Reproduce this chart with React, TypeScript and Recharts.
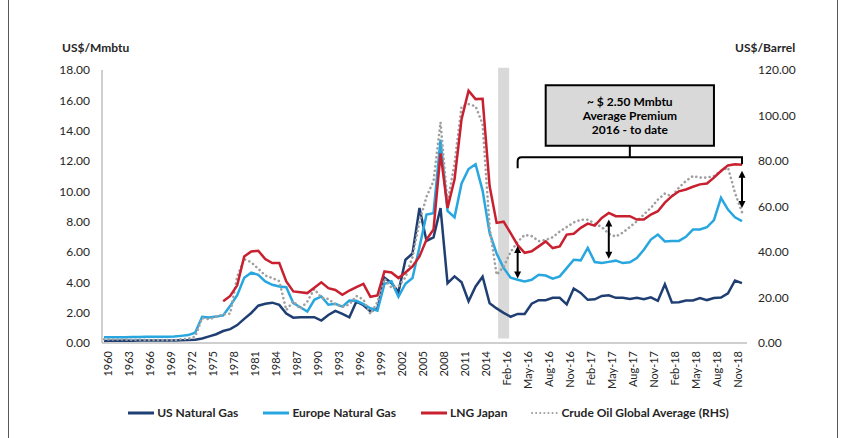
import { LineChart, Line, XAxis, YAxis, ReferenceLine, ReferenceArea } from "recharts";

const years = [
  "1960", "1961", "1962", "1963", "1964", "1965", "1966", "1967", "1968", "1969",
  "1970", "1971", "1972", "1973", "1974", "1975", "1976", "1977", "1978", "1979",
  "1980", "1981", "1982", "1983", "1984", "1985", "1986", "1987", "1988", "1989",
  "1990", "1991", "1992", "1993", "1994", "1995", "1996", "1997", "1998", "1999",
  "2000", "2001", "2002", "2003", "2004", "2005", "2006", "2007", "2008", "2009",
  "2010", "2011", "2012", "2013", "2014", "2015",
];
const months = [
  "Jan-16", "Feb-16", "Mar-16", "Apr-16", "May-16", "Jun-16", "Jul-16", "Aug-16", "Sep-16", "Oct-16", "Nov-16", "Dec-16",
  "Jan-17", "Feb-17", "Mar-17", "Apr-17", "May-17", "Jun-17", "Jul-17", "Aug-17", "Sep-17", "Oct-17", "Nov-17", "Dec-17",
  "Jan-18", "Feb-18", "Mar-18", "Apr-18", "May-18", "Jun-18", "Jul-18", "Aug-18", "Sep-18", "Oct-18", "Nov-18", "Dec-18",
];

// US$/Mmbtu, yearly 1960-2015
const usAnnual = [
  0.14, 0.15, 0.15, 0.16, 0.15, 0.16, 0.16, 0.16, 0.17, 0.17,
  0.17, 0.18, 0.19, 0.22, 0.3, 0.44, 0.58, 0.79, 0.91, 1.18,
  1.59, 1.98, 2.46, 2.59, 2.66, 2.51, 1.94, 1.67, 1.69, 1.69,
  1.7, 1.48, 1.85, 2.12, 1.92, 1.69, 2.73, 2.49, 2.09, 2.27,
  4.31, 3.96, 3.36, 5.49, 5.9, 8.9, 6.73, 6.97, 8.9, 3.94,
  4.39, 4.0, 2.75, 3.73, 4.37, 2.62,
];
const europeAnnual = [
  0.38, 0.38, 0.38, 0.38, 0.39, 0.4, 0.41, 0.42, 0.42, 0.42,
  0.43, 0.47, 0.52, 0.68, 1.72, 1.68, 1.74, 1.82, 2.45, 3.15,
  4.3, 4.64, 4.5, 4.06, 3.84, 3.72, 3.68, 2.63, 2.36, 2.07,
  2.85, 3.07, 2.52, 2.58, 2.4, 2.8, 2.78, 2.56, 2.29, 2.14,
  3.9, 4.06, 3.05, 3.91, 4.28, 6.33, 8.47, 8.56, 13.41, 8.71,
  8.29, 10.52, 11.47, 11.79, 10.05, 7.26,
];
const lngAnnual = [
  null, null, null, null, null, null, null, null, null, null,
  null, null, null, null, null, null, null, 2.75, 3.1, 3.8,
  5.7, 6.04, 6.08, 5.54, 5.27, 5.27, 4.06, 3.4, 3.34, 3.29,
  3.64, 4.0, 3.62, 3.5, 3.18, 3.46, 3.69, 3.9, 3.05, 3.14,
  4.72, 4.65, 4.28, 4.65, 5.05, 5.71, 6.82, 7.48, 12.5, 8.91,
  10.79, 14.76, 16.63, 16.08, 16.1, 10.35,
];
// US$/Barrel
const crudeAnnual = [
  1.63, 1.57, 1.52, 1.5, 1.45, 1.42, 1.36, 1.33, 1.32, 1.29,
  1.21, 1.69, 1.82, 2.81, 10.97, 10.43, 11.63, 12.57, 12.91, 29.19,
  36.87, 35.48, 32.65, 29.66, 28.56, 27.18, 14.43, 18.44, 14.92, 18.23,
  23.73, 20.0, 19.32, 16.97, 15.82, 17.02, 20.67, 19.09, 12.72, 17.97,
  28.23, 24.35, 24.93, 28.9, 37.73, 53.39, 64.29, 71.12, 96.99, 61.76,
  79.04, 104.01, 105.01, 104.07, 96.24, 50.75,
];

// monthly Jan-16 .. Dec-18
const usMonthly = [
  2.28, 1.99, 1.73, 1.92, 1.92, 2.59, 2.82, 2.82, 2.98, 2.98, 2.55, 3.59,
  3.3, 2.85, 2.88, 3.1, 3.15, 2.98, 2.98, 2.9, 2.98, 2.88, 3.01, 2.78,
  3.87, 2.67, 2.69, 2.8, 2.8, 2.97, 2.83, 2.96, 3.0, 3.28, 4.12, 3.95,
];
const europeMonthly = [
  5.9, 4.95, 4.3, 4.17, 4.06, 4.17, 4.5, 4.45, 4.24, 4.39, 4.94, 5.49,
  5.45, 6.27, 5.34, 5.27, 5.35, 5.43, 5.27, 5.32, 5.6, 6.15, 6.82, 7.15,
  6.7, 6.73, 6.73, 7.0, 7.48, 7.48, 7.63, 8.1, 9.57, 8.8, 8.29, 8.03,
];
const lngMonthly = [
  7.92, 8.0, 7.25, 6.45, 5.95, 6.05, 6.37, 6.7, 6.26, 6.37, 7.15, 7.2,
  7.59, 7.87, 7.74, 8.25, 8.58, 8.36, 8.36, 8.36, 8.14, 8.14, 8.47, 8.69,
  9.25, 9.68, 10.0, 10.12, 10.3, 10.46, 10.52, 10.9, 11.34, 11.71, 11.78, 11.76,
];
const crudeMonthly = [
  30.0, 33.5, 40.0, 44.5, 47.5, 47.0, 44.8, 45.3, 46.5, 49.0, 51.0, 53.0,
  54.2, 54.2, 52.5, 51.0, 48.0, 46.8, 48.5, 51.0, 53.5, 56.5, 59.4, 63.0,
  65.7, 64.5, 68.3, 71.2, 73.4, 72.7, 72.7, 73.4, 75.6, 77.1, 66.0, 57.5,
];

const leftTicks = [0, 2, 4, 6, 8, 10, 12, 14, 16, 18];
const rightTicks = [0, 20, 40, 60, 80, 100, 120];
const boxLines = ["~ $ 2.50 Mmbtu", "Average Premium", "2016 - to date"];

const categories = [...years, ...months];
const us = [...usAnnual, ...usMonthly];
const europe = [...europeAnnual, ...europeMonthly];
const lng = [...lngAnnual, ...lngMonthly];
const crude = [...crudeAnnual, ...crudeMonthly];

const data = categories.map((period, i) => ({
  period,
  us: us[i],
  europe: europe[i],
  lng: lng[i],
  crude: crude[i],
}));

const series = [
  { key: "us", name: "US Natural Gas", color: "#1f3f73", dotted: false },
  { key: "europe", name: "Europe Natural Gas", color: "#27a6df", dotted: false },
  { key: "lng", name: "LNG Japan", color: "#c8202f", dotted: false },
  { key: "crude", name: "Crude Oil Global Average (RHS)", color: "#a0a0a0", dotted: true },
];

const FONT = "Lato, 'Open Sans', sans-serif";
const TEXT = "#262626";

function XTick(props: any) {
  const { x, y, payload } = props;
  return (
    <text
      transform={`translate(${x + 3},${y}) rotate(-90)`}
      textAnchor="end"
      dominantBaseline="central"
      fontSize={11}
      fill={TEXT}
    >
      {payload.value}
    </text>
  );
}

function DoubleArrow(props: any) {
  const { x1, y1, y2 } = props;
  const top = Math.min(y1, y2);
  const bottom = Math.max(y1, y2);
  const head = 7;
  const half = 3.5;
  return (
    <g>
      <line x1={x1} y1={top + head - 1} x2={x1} y2={bottom - head + 1} stroke="#000" strokeWidth={2} />
      <polygon points={`${x1},${top} ${x1 - half},${top + head} ${x1 + half},${top + head}`} fill="#000" />
      <polygon points={`${x1},${bottom} ${x1 - half},${bottom - head} ${x1 + half},${bottom - head}`} fill="#000" />
    </g>
  );
}

function Bracket(props: any) {
  const { x1, y1, x2 } = props;
  const left = Math.min(x1, x2);
  const right = Math.max(x1, x2);
  const r = 4;
  return (
    <path
      d={`M${left},${y1 + 11} L${left},${y1 + r} Q${left},${y1} ${left + r},${y1} L${right},${y1} L${right},${y1 + 7}`}
      fill="none"
      stroke="#000"
      strokeWidth={2}
    />
  );
}

function BoxLabel(props: any) {
  const { x, y, width, height } = props.viewBox;
  const cx = x + width / 2;
  return (
    <text x={cx} y={y + height / 2 - 14.2} textAnchor="middle" fontSize={12} fontWeight={700} fill="#000">
      {boxLines.map((line, k) => (
        <tspan key={k} x={cx} dy={k === 0 ? "0.35em" : 14.2}>
          {line}
        </tspan>
      ))}
    </text>
  );
}

export default function App() {
  return (
    <div style={{ position: "absolute", left: 0, top: 0, width: 844, height: 438, background: "#fff", fontFamily: FONT, overflow: "hidden" }}>
      <div style={{ position: "absolute", left: 8, top: -2, width: 828, height: 442, borderLeft: "1px solid #595959", borderRight: "1px solid #595959" }} />
      <div style={{ position: "absolute", left: 62, top: 40, fontSize: 12, fontWeight: 700, color: TEXT }}>US$/Mmbtu</div>
      <div style={{ position: "absolute", left: 735, top: 40, fontSize: 12, fontWeight: 700, color: TEXT }}>US$/Barrel</div>

      <LineChart width={844} height={438} data={data} margin={{ top: 70, right: 37, bottom: 35, left: 2 }}>
        <ReferenceLine
          yAxisId="left"
          segment={[{ x: "Feb-16", y: 0.3 }, { x: "Feb-16", y: 18.15 }]}
          stroke="#d9d9d9"
          strokeWidth={11}
          ifOverflow="visible"
        />
        <XAxis
          dataKey="period"
          interval={2}
          tick={<XTick />}
          tickLine={false}
          height={60}
          padding={{ left: 2, right: 5 }}
          axisLine={{ stroke: "#bfbfbf", strokeWidth: 1.5 }}
        />
        <YAxis
          yAxisId="left"
          width={100}
          domain={[0, 18]}
          ticks={leftTicks}
          tickFormatter={(v: number) => v.toFixed(2)}
          tickLine={false}
          tickMargin={6}
          axisLine={{ stroke: "#bfbfbf", strokeWidth: 1.5 }}
          tick={{ fontSize: 12, fill: TEXT }}
        />
        <YAxis
          yAxisId="right"
          orientation="right"
          width={60}
          domain={[0, 120]}
          ticks={rightTicks}
          tickFormatter={(v: number) => v.toFixed(2)}
          tickLine={false}
          tickMargin={5}
          axisLine={false}
          tick={{ fontSize: 12, fill: TEXT, textAnchor: "start" }}
        />
        <Line yAxisId="left" dataKey="us" name="US Natural Gas" stroke="#1f3f73" strokeWidth={2.5} dot={false} isAnimationActive={false} />
        <Line yAxisId="left" dataKey="europe" name="Europe Natural Gas" stroke="#27a6df" strokeWidth={2.5} dot={false} isAnimationActive={false} />
        <Line
          yAxisId="right"
          dataKey="crude"
          name="Crude Oil Global Average (RHS)"
          stroke="#a0a0a0"
          strokeWidth={2.6}
          strokeDasharray="0.1 4.4"
          strokeLinecap="round"
          dot={false}
          isAnimationActive={false}
        />
        <Line yAxisId="left" dataKey="lng" name="LNG Japan" stroke="#c8202f" strokeWidth={2.5} dot={false} isAnimationActive={false} />

        <ReferenceArea
          yAxisId="left"
          x1="Aug-16"
          x2="Aug-18"
          y1={13}
          y2={17}
          fill="#d9d9d9"
          fillOpacity={1}
          stroke="#000"
          strokeWidth={2}
          label={BoxLabel}
        />
        <ReferenceLine yAxisId="left" segment={[{ x: "Apr-16", y: 12.25 }, { x: "Dec-18", y: 12.25 }]} shape={Bracket} />
        <ReferenceLine yAxisId="left" segment={[{ x: "Aug-17", y: 12.25 }, { x: "Aug-17", y: 13 }]} stroke="#000" strokeWidth={2} />
        <ReferenceLine yAxisId="left" segment={[{ x: "Apr-16", y: 6.4 }, { x: "Apr-16", y: 4.25 }]} shape={DoubleArrow} />
        <ReferenceLine yAxisId="left" segment={[{ x: "May-17", y: 8.15 }, { x: "May-17", y: 5.55 }]} shape={DoubleArrow} />
        <ReferenceLine yAxisId="left" segment={[{ x: "Dec-18", y: 11.35 }, { x: "Dec-18", y: 8.9 }]} shape={DoubleArrow} />
      </LineChart>

      <div style={{ position: "absolute", left: 0, width: 856, top: 405, display: "flex", justifyContent: "center", gap: 24, fontSize: 12, fontWeight: 700, color: TEXT }}>
        {series.map((s) => (
          <div key={s.key} style={{ display: "flex", alignItems: "center", gap: 2 }}>
            <svg width={28} height={6}>
              <line
                x1={1}
                y1={3}
                x2={27}
                y2={3}
                stroke={s.color}
                strokeWidth={s.dotted ? 2 : 3}
                strokeDasharray={s.dotted ? "0.1 4" : undefined}
                strokeLinecap={s.dotted ? "round" : "butt"}
              />
            </svg>
            <span>{s.name}</span>
          </div>
        ))}
      </div>
    </div>
  );
}
